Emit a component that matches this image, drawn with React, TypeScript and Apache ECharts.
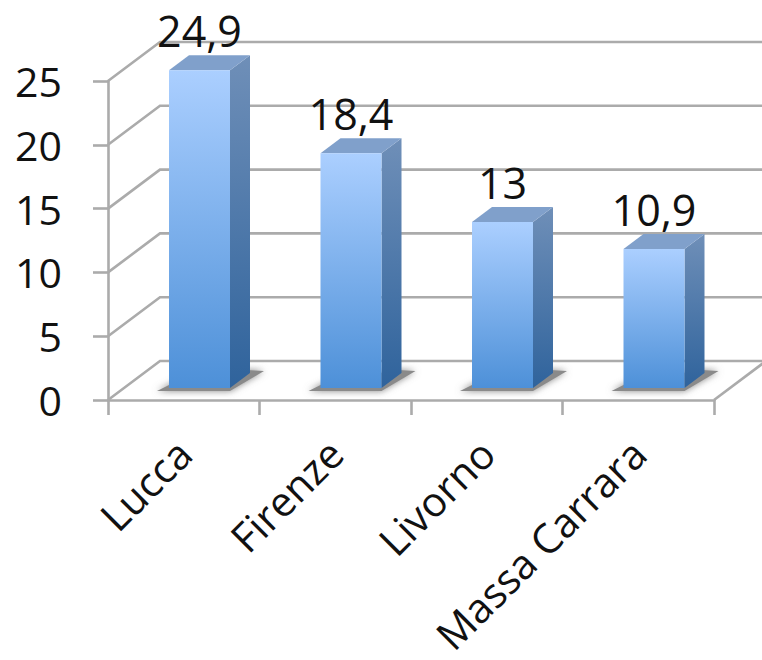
import React, { useEffect, useRef } from "react";
import * as echarts from "echarts";

const categories = ["Lucca", "Firenze", "Livorno", "Massa Carrara"];
const barValues = [24.9, 18.4, 13, 10.9];
const wallTicks = [0, 5, 10, 15, 20, 25];

const FONT = "'Open Sans', sans-serif";
const GRID_LINE = "#ababab";
const LINE_W = 2.6;
const DEPTH_X = 52;
const DEPTH_Y = 39;
const BAR_SHIFT_X = 15.75;
const BAR_SHIFT_Y = 12;
const BAR_W = 61;
const SIDE_X = 20;
const SIDE_Y = 15;

const lineStyle = { stroke: GRID_LINE, lineWidth: LINE_W, fill: "none" };

function renderWall(params: any, api: any) {
  const cs = params.coordSys;
  const y = api.coord([0, api.value(1)])[1];
  const left = cs.x;
  const right = cs.x + cs.width;
  const children: any[] = [
    {
      type: "polyline",
      shape: {
        points: [
          [left, y],
          [left + DEPTH_X, y - DEPTH_Y],
          [right + DEPTH_X, y - DEPTH_Y],
        ],
      },
      style: lineStyle,
    },
  ];
  if (api.value(1) === 0) {
    children.push({
      type: "line",
      shape: { x1: right, y1: y, x2: right + DEPTH_X, y2: y - DEPTH_Y },
      style: lineStyle,
    });
  }
  return { type: "group", children };
}

function renderBar(_params: any, api: any) {
  const idx = api.value(0);
  const val = api.value(1);
  const top = api.coord([idx, val]);
  const base = api.coord([idx, 0]);
  const cx = top[0] + BAR_SHIFT_X;
  const x0 = cx - BAR_W / 2;
  const x1 = cx + BAR_W / 2;
  const yTop = top[1] - BAR_SHIFT_Y;
  const yBase = base[1] - BAR_SHIFT_Y;
  const vGrad = (a: string, b: string) => ({
    type: "linear",
    x: 0,
    y: 0,
    x2: 0,
    y2: 1,
    colorStops: [
      { offset: 0, color: a },
      { offset: 1, color: b },
    ],
  });
  return {
    type: "group",
    children: [
      {
        type: "polygon",
        shape: {
          points: [
            [x0 - 12, yBase + 3],
            [x1, yBase + 3],
            [x1 + 34, yBase - 17],
            [x1 + 16, yBase - 18],
            [x0 + 6, yBase - 6],
          ],
        },
        style: {
          fill: "#8a8a8a",
          shadowBlur: 7,
          shadowColor: "rgba(120,120,120,0.9)",
        },
      },
      {
        type: "polygon",
        shape: {
          points: [
            [x1, yTop],
            [x1 + SIDE_X, yTop - SIDE_Y],
            [x1 + SIDE_X, yBase - SIDE_Y],
            [x1, yBase],
          ],
        },
        style: { fill: vGrad("#6f8fb8", "#2f639c") },
      },
      {
        type: "polygon",
        shape: {
          points: [
            [x0, yTop],
            [x0 + SIDE_X, yTop - SIDE_Y],
            [x1 + SIDE_X, yTop - SIDE_Y],
            [x1, yTop],
          ],
        },
        style: { fill: "#80a0cb" },
      },
      {
        type: "rect",
        shape: { x: x0, y: yTop, width: BAR_W, height: yBase - yTop },
        style: { fill: vGrad("#abcfff", "#4d90d8") },
      },
      {
        type: "text",
        x: cx,
        y: yTop - 18,
        style: {
          text: String(val).replace(".", ","),
          fontSize: 43,
          fontFamily: FONT,
          fill: "#111111",
          textAlign: "center",
          textVerticalAlign: "bottom",
        },
      },
    ],
  };
}

export default function App() {
  const ref = useRef<HTMLDivElement>(null);
  useEffect(() => {
    const chart = echarts.init(ref.current!, undefined, { renderer: "svg" });
    chart.setOption({
      animation: false,
      backgroundColor: "#ffffff",
      grid: {
        left: 108,
        top: 81,
        width: 606,
        height: 319,
        containLabel: false,
        outerBoundsMode: "none",
      },
      xAxis: {
        type: "category",
        data: categories,
        boundaryGap: true,
        axisLine: { show: true, lineStyle: { color: GRID_LINE, width: LINE_W } },
        axisTick: {
          show: true,
          alignWithLabel: false,
          length: 15,
          lineStyle: { color: GRID_LINE, width: LINE_W },
        },
        axisLabel: {
          rotate: 45,
          interval: 0,
          margin: 46,
          fontSize: 41,
          fontFamily: FONT,
          color: "#111111",
        },
      },
      yAxis: {
        type: "value",
        min: 0,
        max: 25,
        interval: 5,
        splitLine: { show: false },
        axisLine: { show: true, lineStyle: { color: GRID_LINE, width: LINE_W } },
        axisTick: { show: true, length: 15, lineStyle: { color: GRID_LINE, width: LINE_W } },
        axisLabel: {
          margin: 46,
          fontSize: 41,
          fontFamily: FONT,
          color: "#111111",
        },
      },
      series: [
        {
          type: "custom",
          silent: true,
          clip: false,
          renderItem: renderWall,
          data: wallTicks.map((v) => [0, v]),
          z: 1,
        },
        {
          type: "custom",
          silent: true,
          clip: false,
          renderItem: renderBar,
          data: barValues.map((v, i) => [i, v]),
          z: 3,
        },
      ],
    });
    return () => chart.dispose();
  }, []);
  return (
    <div
      ref={ref}
      style={{ position: "fixed", left: 0, top: 0, width: 762, height: 660 }}
    />
  );
}
